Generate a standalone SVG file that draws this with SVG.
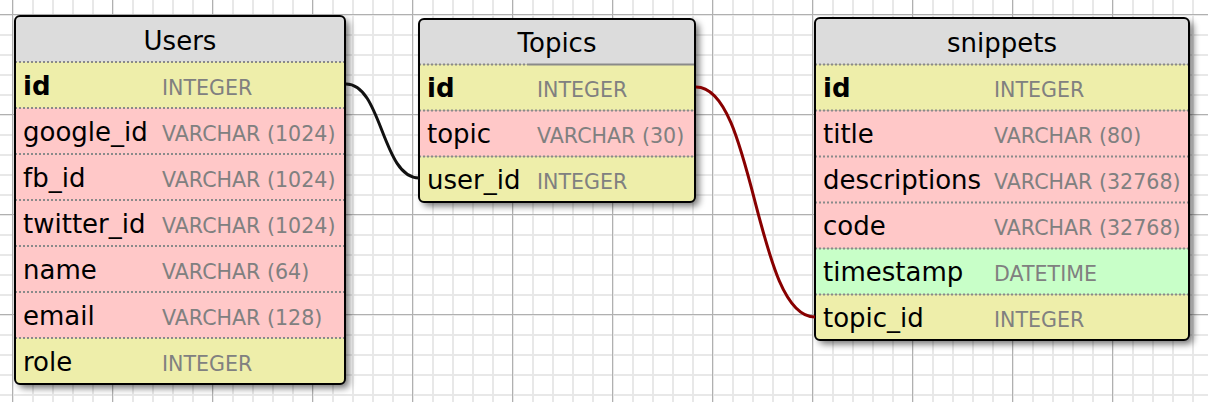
<svg xmlns="http://www.w3.org/2000/svg" width="1208" height="402" viewBox="0 0 1208 402">
<style>
.hdr{fill:#dcdcdc}
.pk{fill:#eeeeaa}
.tx{fill:#ffc8c8}
.dt{fill:#c8ffc8}
.border{fill:none;stroke:#000;stroke-width:2}
.sep{stroke:#8a8a8a;stroke-width:2;stroke-dasharray:2 2}
.sepsolid{stroke:#8a8a8a;stroke-width:2}
.title{font-family:"DejaVu Sans",Verdana,sans-serif;font-size:26px;fill:#000;text-anchor:middle}
.name{font-family:"DejaVu Sans",Verdana,sans-serif;font-size:26px;fill:#000}
.bold{font-weight:bold}
.type{font-family:"DejaVu Sans",Verdana,sans-serif;font-size:20.6px;fill:#808080}
.shadow{fill:#000;opacity:0.55;filter:url(#blur)}
.conn{fill:none;stroke-width:3}
</style>
<defs>
<filter id="blur" x="-10%" y="-10%" width="130%" height="130%">
<feGaussianBlur stdDeviation="3.5"/>
</filter>
<pattern id="minor" patternUnits="userSpaceOnUse" x="3" y="5" width="20" height="20">
<path d="M10 0V20M0 10H20" stroke="#e8e8e8" stroke-width="2" fill="none"/>
</pattern>
<pattern id="major" patternUnits="userSpaceOnUse" x="12" y="14" width="100" height="100">
<path d="M0.5 0V100M0 0.5H100" stroke="#b0b0b0" stroke-width="1" fill="none"/>
</pattern>
</defs>
<g id="grid">
<rect x="0" y="0" width="1208" height="402" fill="#fff"/>
<rect x="0" y="0" width="1208" height="402" fill="url(#minor)"/>
<rect x="0" y="0" width="1208" height="402" fill="url(#major)"/>
</g>
<g id="users">
<rect class="shadow" x="19" y="20" width="330" height="368" rx="5"/>
<path class="hdr" d="M15,62V21Q15,16 20,16H340Q345,16 345,21V62Z"/>
<rect class="pk" x="15" y="62" width="330" height="46"/>
<rect class="tx" x="15" y="108" width="330" height="230"/>
<path class="pk" d="M15,338H345V379Q345,384 340,384H20Q15,384 15,379Z"/>
<g>
<line class="sep" x1="15" y1="62" x2="345" y2="62"/>
<line class="sep" x1="15" y1="108" x2="345" y2="108"/>
<line class="sep" x1="15" y1="154" x2="345" y2="154"/>
<line class="sep" x1="15" y1="200" x2="345" y2="200"/>
<line class="sep" x1="15" y1="246" x2="345" y2="246"/>
<line class="sep" x1="15" y1="292" x2="345" y2="292"/>
<line class="sep" x1="15" y1="338" x2="345" y2="338"/>
</g>
<rect class="border" x="15" y="16" width="330" height="368" rx="5"/>
<text class="title" x="180" y="50">Users</text>
<text class="name bold" x="23" y="95">id</text><text class="type" x="162" y="95">INTEGER</text>
<text class="name" x="23" y="141">google_id</text><text class="type" x="162" y="141">VARCHAR (1024)</text>
<text class="name" x="23" y="187">fb_id</text><text class="type" x="162" y="187">VARCHAR (1024)</text>
<text class="name" x="23" y="233">twitter_id</text><text class="type" x="162" y="233">VARCHAR (1024)</text>
<text class="name" x="23" y="279">name</text><text class="type" x="162" y="279">VARCHAR (64)</text>
<text class="name" x="23" y="325">email</text><text class="type" x="162" y="325">VARCHAR (128)</text>
<text class="name" x="23" y="371">role</text><text class="type" x="162" y="371">INTEGER</text>
</g>
<g id="topics">
<rect class="shadow" x="423" y="23" width="276" height="183" rx="5"/>
<path class="hdr" d="M419,64.5V24Q419,19 424,19H690Q695,19 695,24V64.5Z"/>
<rect class="pk" x="419" y="64.5" width="276" height="46"/>
<rect class="tx" x="419" y="110.5" width="276" height="46"/>
<path class="pk" d="M419,156.5H695V197Q695,202 690,202H424Q419,202 419,197Z"/>
<line class="sep" x1="419" y1="64.5" x2="528" y2="64.5"/>
<line class="sepsolid" x1="528" y1="64.5" x2="695" y2="64.5"/>
<line class="sep" x1="419" y1="110.5" x2="695" y2="110.5"/>
<line class="sep" x1="419" y1="156.5" x2="695" y2="156.5"/>
<rect class="border" x="419" y="19" width="276" height="183" rx="5"/>
<text class="title" x="557" y="52">Topics</text>
<text class="name bold" x="427" y="97">id</text><text class="type" x="537" y="97">INTEGER</text>
<text class="name" x="427" y="143">topic</text><text class="type" x="537" y="143">VARCHAR (30)</text>
<text class="name" x="427" y="189">user_id</text><text class="type" x="537" y="189">INTEGER</text>
</g>
<g id="snippets">
<rect class="shadow" x="819" y="22" width="374" height="322" rx="5"/>
<path class="hdr" d="M815,64.5V23Q815,18 820,18H1184Q1189,18 1189,23V64.5Z"/>
<rect class="pk" x="815" y="64.5" width="374" height="46"/>
<rect class="tx" x="815" y="110.5" width="374" height="138"/>
<rect class="dt" x="815" y="248.5" width="374" height="46"/>
<path class="pk" d="M815,294.5H1189V335Q1189,340 1184,340H820Q815,340 815,335Z"/>
<line class="sep" x1="815" y1="64.5" x2="1189" y2="64.5"/>
<line class="sep" x1="815" y1="110.5" x2="1189" y2="110.5"/>
<line class="sep" x1="815" y1="156.5" x2="1189" y2="156.5"/>
<line class="sep" x1="815" y1="202.5" x2="1189" y2="202.5"/>
<line class="sep" x1="815" y1="248.5" x2="1189" y2="248.5"/>
<line class="sep" x1="815" y1="294.5" x2="1189" y2="294.5"/>
<rect class="border" x="815" y="18" width="374" height="322" rx="5"/>
<text class="title" x="1002" y="52">snippets</text>
<text class="name bold" x="823" y="97">id</text><text class="type" x="994" y="97">INTEGER</text>
<text class="name" x="823" y="143">title</text><text class="type" x="994" y="143">VARCHAR (80)</text>
<text class="name" x="823" y="189">descriptions</text><text class="type" x="994" y="189">VARCHAR (32768)</text>
<text class="name" x="823" y="235">code</text><text class="type" x="994" y="235">VARCHAR (32768)</text>
<text class="name" x="823" y="281">timestamp</text><text class="type" x="994" y="281">DATETIME</text>
<text class="name" x="823" y="327">topic_id</text><text class="type" x="994" y="327">INTEGER</text>
</g>
<g id="connectors">
<path class="conn" stroke="#111" d="M346,84C382,84 382,178 419,178"/>
<path class="conn" stroke="#880000" d="M696,87C755,87 755,317 815,317"/>
</g>
</svg>
